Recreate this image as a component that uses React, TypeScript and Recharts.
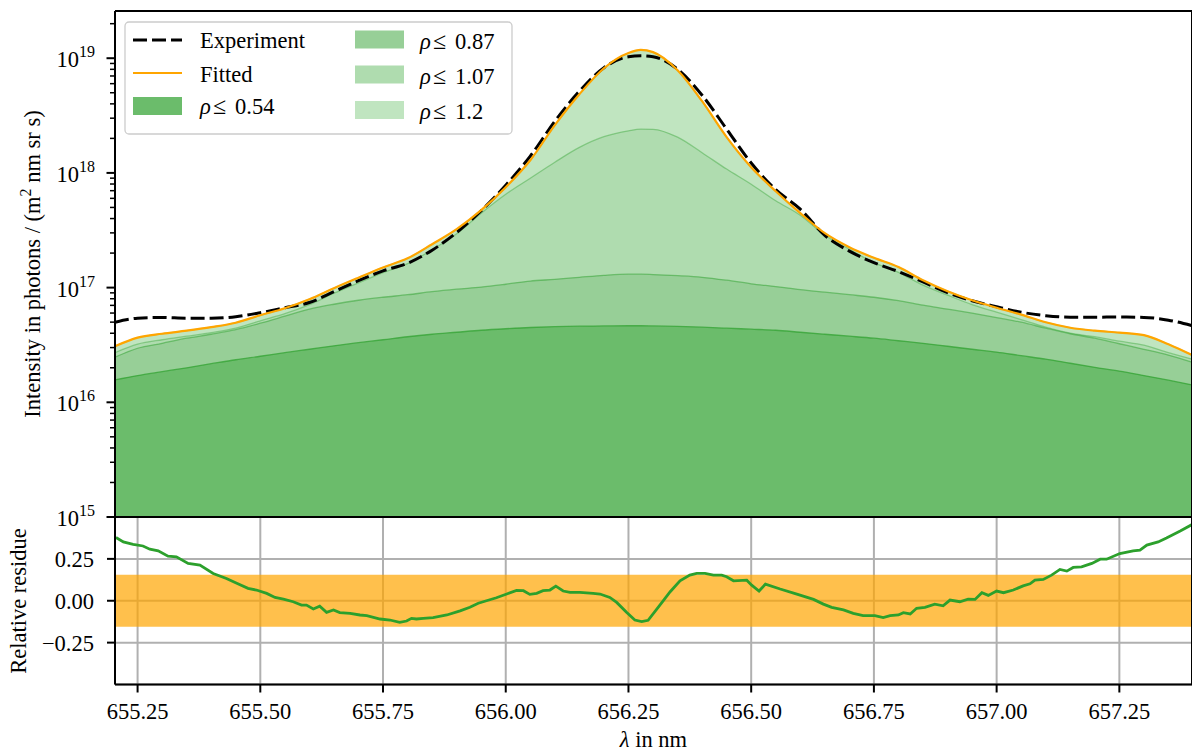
import {
  ComposedChart,
  Area,
  Line,
  XAxis,
  YAxis,
  CartesianGrid,
  ReferenceArea,
  ReferenceLine,
  Legend,
} from "recharts";

const FONT = '"Liberation Serif", "Times New Roman", serif';

// wavelength grid (nm) for the spectrum panel
const WAVELENGTH = [
  655.204, 655.25, 655.3, 655.35, 655.4, 655.45, 655.5, 655.55, 655.6, 655.65, 655.7, 655.75,
  655.8, 655.85, 655.9, 655.95, 656.0, 656.05, 656.1, 656.15, 656.2, 656.25, 656.275, 656.3,
  656.35, 656.4, 656.45, 656.5, 656.55, 656.6, 656.65, 656.7, 656.75, 656.8, 656.85, 656.9,
  656.95, 657.0, 657.05, 657.1, 657.15, 657.2, 657.25, 657.3, 657.35, 657.398,
];

// measured spectrum (dashed black)
const EXPERIMENT = [
  4.99e16, 5.41e16, 5.49e16, 5.41e16, 5.41e16, 5.58e16, 6.04e16, 6.68e16, 7.41e16, 9.21e16,
  1.15e17, 1.4e17, 1.63e17, 2.12e17, 3.02e17, 4.68e17, 7.81e17, 1.4e18, 2.82e18, 5.15e18,
  8.26e18, 1.03e19, 1.05e19, 1.03e19, 8.02e18, 4.76e18, 2.41e18, 1.22e18, 7.14e17, 4.83e17,
  2.86e17, 2.08e17, 1.65e17, 1.38e17, 1.12e17, 9.03e16, 7.69e16, 6.81e16, 6.1e16, 5.69e16,
  5.52e16, 5.52e16, 5.54e16, 5.5e16, 5.2e16, 4.66e16,
];

// fitted total (orange), also the top of the rho <= 1.2 band
const FITTED = [
  3.08e16, 3.66e16, 3.96e16, 4.21e16, 4.52e16, 4.94e16, 5.74e16, 6.61e16, 7.92e16, 9.88e16,
  1.22e17, 1.5e17, 1.8e17, 2.39e17, 3.23e17, 4.73e17, 7.5e17, 1.29e18, 2.61e18, 4.85e18,
  8.18e18, 1.11e19, 1.18e19, 1.13e19, 7.86e18, 4.22e18, 2.05e18, 1.12e18, 6.92e17, 4.46e17,
  2.98e17, 2.25e17, 1.82e17, 1.51e17, 1.16e17, 9.31e16, 7.76e16, 6.68e16, 5.81e16, 4.99e16,
  4.47e16, 4.21e16, 4.05e16, 3.85e16, 3.21e16, 2.58e16,
];

const RHO_107 = [
  2.71e16, 3.21e16, 3.51e16, 3.77e16, 4.05e16, 4.43e16, 5.14e16, 5.92e16, 7.1e16, 8.94e16,
  1.1e17, 1.35e17, 1.62e17, 2.14e17, 2.95e17, 4.46e17, 6.52e17, 8.99e17, 1.24e18, 1.67e18,
  2.07e18, 2.33e18, 2.41e18, 2.4e18, 2.05e18, 1.5e18, 1.08e18, 7.97e17, 5.72e17, 4.28e17,
  2.86e17, 2.16e17, 1.65e17, 1.36e17, 1.05e17, 8.59e16, 7.1e16, 6.1e16, 5.25e16, 4.52e16,
  4.0e16, 3.73e16, 3.41e16, 3.15e16, 2.71e16, 2.38e16,
];

const RHO_087 = [
  2.47e16, 2.96e16, 3.27e16, 3.62e16, 3.92e16, 4.3e16, 4.89e16, 5.63e16, 6.49e16, 7.16e16,
  7.76e16, 8.24e16, 8.67e16, 9.21e16, 9.68e16, 1.01e17, 1.07e17, 1.14e17, 1.18e17, 1.23e17,
  1.28e17, 1.31e17, 1.31e17, 1.3e17, 1.27e17, 1.23e17, 1.16e17, 1.08e17, 1.02e17, 9.59e16,
  9.12e16, 8.67e16, 8.24e16, 7.69e16, 7.03e16, 6.49e16, 5.98e16, 5.47e16, 4.99e16, 4.43e16,
  3.96e16, 3.62e16, 3.24e16, 2.9e16, 2.58e16, 2.24e16,
];

const RHO_054 = [
  1.57e16, 1.71e16, 1.85e16, 2.0e16, 2.17e16, 2.35e16, 2.52e16, 2.71e16, 2.9e16, 3.11e16,
  3.31e16, 3.51e16, 3.73e16, 3.92e16, 4.08e16, 4.25e16, 4.38e16, 4.49e16, 4.56e16, 4.61e16,
  4.63e16, 4.65e16, 4.65e16, 4.63e16, 4.59e16, 4.52e16, 4.43e16, 4.34e16, 4.25e16, 4.08e16,
  3.92e16, 3.77e16, 3.62e16, 3.44e16, 3.27e16, 3.08e16, 2.9e16, 2.74e16, 2.55e16, 2.38e16,
  2.19e16, 2.02e16, 1.87e16, 1.71e16, 1.56e16, 1.42e16,
];

// relative residue panel
const RES_WL = [
  655.206, 655.221, 655.241, 655.261, 655.275, 655.292, 655.312, 655.329, 655.353, 655.377,
  655.404, 655.431, 655.452, 655.475, 655.492, 655.513, 655.53, 655.547, 655.567, 655.584,
  655.594, 655.608, 655.621, 655.635, 655.649, 655.662, 655.683, 655.703, 655.717, 655.744,
  655.764, 655.784, 655.798, 655.808, 655.818, 655.832, 655.852, 655.88, 655.907, 655.927,
  655.944, 655.981, 656.002, 656.022, 656.036, 656.049, 656.063, 656.076, 656.09, 656.102,
  656.117, 656.131, 656.151, 656.178, 656.192, 656.212, 656.226, 656.246, 656.263, 656.277,
  656.29, 656.314, 656.335, 656.355, 656.375, 656.389, 656.406, 656.423, 656.44, 656.45,
  656.464, 656.491, 656.501, 656.516, 656.529, 656.559, 656.593, 656.627, 656.647, 656.664,
  656.688, 656.708, 656.728, 656.752, 656.769, 656.783, 656.8, 656.81, 656.824, 656.837,
  656.854, 656.874, 656.891, 656.905, 656.925, 656.942, 656.956, 656.97, 656.983, 657.0,
  657.014, 657.034, 657.054, 657.068, 657.078, 657.095, 657.112, 657.129, 657.143, 657.156,
  657.173, 657.194, 657.211, 657.224, 657.251, 657.278, 657.292, 657.306, 657.329, 657.346,
  657.374, 657.398,
];
const RES_VAL = [
  0.378, 0.351, 0.337, 0.327, 0.308, 0.298, 0.266, 0.262, 0.223, 0.213,
  0.163, 0.133, 0.104, 0.074, 0.064, 0.044, 0.02, 0.01, -0.006, -0.026,
  -0.026, -0.049, -0.032, -0.069, -0.055, -0.071, -0.075, -0.085, -0.089, -0.109,
  -0.115, -0.129, -0.121, -0.105, -0.109, -0.105, -0.101, -0.085, -0.06, -0.039,
  -0.015, 0.018, 0.04, 0.062, 0.06, 0.038, 0.044, 0.06, 0.064, 0.087,
  0.058, 0.05, 0.05, 0.044, 0.04, 0.02, -0.01, -0.069, -0.115, -0.125,
  -0.117, -0.026, 0.054, 0.119, 0.153, 0.163, 0.163, 0.153, 0.153, 0.143,
  0.119, 0.123, 0.093, 0.058, 0.099, 0.07, 0.04, 0.008, -0.02, -0.039,
  -0.055, -0.075, -0.089, -0.089, -0.101, -0.089, -0.085, -0.071, -0.079, -0.045,
  -0.039, -0.02, -0.03, 0.004, -0.006, 0.01, 0.008, 0.048, 0.032, 0.058,
  0.048, 0.064, 0.089, 0.101, 0.123, 0.127, 0.153, 0.187, 0.177, 0.199,
  0.202, 0.223, 0.248, 0.248, 0.282, 0.298, 0.302, 0.332, 0.351, 0.375,
  0.417, 0.455,
];

const BAND = 0.155; // tolerance band of the residue
const X_TICKS = [655.25, 655.5, 655.75, 656.0, 656.25, 656.5, 656.75, 657.0, 657.25];
const RES_TICKS = [-0.25, 0, 0.25];

const XMIN = 655.204;
const XMAX = 657.398;
const YMIN = 1e15;
const YMAX = 2.58e19;

const LOG_TICKS: number[] = [];
for (let e = 15; e <= 19; e++) {
  for (let m = 1; m <= 9; m++) {
    const v = m * Math.pow(10, e);
    if (v <= YMAX) LOG_TICKS.push(v);
  }
}

const topData = WAVELENGTH.map((wl, i) => ({
  wl,
  experiment: EXPERIMENT[i],
  fitted: FITTED[i],
  rho107: RHO_107[i],
  rho087: RHO_087[i],
  rho054: RHO_054[i],
}));

const resData = RES_WL.map((wl, i) => ({ wl, res: RES_VAL[i] }));

const AXIS_X = 115;

function renderLogTick(props: any) {
  const { y, payload } = props;
  const v = payload.value as number;
  const exp = Math.round(Math.log10(v));
  const major = Math.abs(v / Math.pow(10, exp) - 1) < 1e-6;
  return (
    <g>
      <line
        x1={AXIS_X - (major ? 8.5 : 5)}
        x2={AXIS_X}
        y1={y}
        y2={y}
        stroke="#000"
        strokeWidth={major ? 2 : 1.5}
      />
      {major && (
        <text x={AXIS_X - 20} y={y + 9} textAnchor="end" fontSize={22.5} fontFamily={FONT} fill="#000">
          10
          <tspan dy={-10} fontSize={16}>
            {exp}
          </tspan>
        </text>
      )}
    </g>
  );
}

const fmtRes = (v: number) => (v < 0 ? "\u2212" + Math.abs(v).toFixed(2) : v.toFixed(2));

function LegendBox() {
  const txt = { fontSize: 22.5, fontFamily: FONT, fill: "#000" } as const;
  const rho = (x: number, y: number, num: string) => (
    <text x={x} y={y} {...txt}>
      <tspan fontStyle="italic">ρ</tspan>
      <tspan x={x + 13} fontSize={24}>≤</tspan>
      <tspan x={x + 35}>{num}</tspan>
    </text>
  );
  return (
    <svg width={520} height={140} style={{ display: "block" }}>
      <rect x={125} y={22} width={387} height={112} rx={4} fill="#fff" fillOpacity={0.8} stroke="#cccccc" strokeWidth={1.3} />
      <line x1={133} x2={182} y1={40} y2={40} stroke="#000" strokeWidth={3} strokeDasharray="14 5" />
      <text x={200} y={48} {...txt}>Experiment</text>
      <line x1={133} x2={182} y1={73} y2={73} stroke="#ffa500" strokeWidth={2.2} />
      <text x={200} y={82} {...txt}>Fitted</text>
      <rect x={133} y={97} width={49} height={18} fill="#6bbc6b" />
      {rho(200, 114, "0.54")}
      <rect x={355} y={30.5} width={49} height={18} fill="#97cf97" />
      {rho(420, 48.5, "0.87")}
      <rect x={355} y={65.5} width={49} height={18} fill="#afdcaf" />
      {rho(420, 84, "1.07")}
      <rect x={355} y={101} width={49} height={18} fill="#c0e5c0" />
      {rho(420, 119, "1.2")}
    </svg>
  );
}

export default function App() {
  return (
    <div style={{ position: "absolute", left: 0, top: 0, width: 1192, height: 753, background: "#fff", fontFamily: FONT }}>
      <div style={{ position: "absolute", left: 0, top: 0 }}>
        <ComposedChart width={1192} height={530} data={topData} margin={{ top: 11, right: 0, bottom: 13, left: 0 }}>
          <XAxis dataKey="wl" type="number" domain={[XMIN, XMAX]} allowDataOverflow hide />
          <YAxis
            type="number"
            scale="log"
            domain={[YMIN, YMAX]}
            allowDataOverflow
            ticks={LOG_TICKS}
            interval={0}
            width={115}
            tickLine={false}
            tickSize={0}
            tickMargin={0}
            axisLine={{ stroke: "#000", strokeWidth: 2 }}
            tick={renderLogTick}
            label={() => (
              <text
                x={39.5}
                y={264}
                transform="rotate(-90 39.5 264)"
                textAnchor="middle"
                fontSize={22.5}
                fontFamily={FONT}
                fill="#000"
              >
                Intensity in photons / (m
                <tspan dy={-9} fontSize={16}>2</tspan>
                <tspan dy={9}>{" nm sr s)"}</tspan>
              </text>
            )}
          />
          {/* bands drawn from the widest to the narrowest */}
          <Area type="monotone" dataKey="fitted" baseValue={YMIN} fill="#c0e5c0" fillOpacity={1} stroke="#2ca02c" strokeOpacity={0.3} strokeWidth={1.3} isAnimationActive={false} />
          <Area type="monotone" dataKey="rho107" baseValue={YMIN} fill="#afdcaf" fillOpacity={1} stroke="#2ca02c" strokeOpacity={0.4} strokeWidth={1.3} isAnimationActive={false} />
          <Area type="monotone" dataKey="rho087" baseValue={YMIN} fill="#97cf97" fillOpacity={1} stroke="#2ca02c" strokeOpacity={0.5} strokeWidth={1.3} isAnimationActive={false} />
          <Area type="monotone" dataKey="rho054" baseValue={YMIN} fill="#6bbc6b" fillOpacity={1} stroke="#2ca02c" strokeOpacity={0.7} strokeWidth={1.3} isAnimationActive={false} />
          <Line type="monotone" dataKey="experiment" stroke="#000" strokeWidth={3} strokeDasharray="14 5" dot={false} activeDot={false} isAnimationActive={false} />
          <Line type="monotone" dataKey="fitted" stroke="#ffa500" strokeWidth={2.2} dot={false} activeDot={false} isAnimationActive={false} />
          <ReferenceLine y={YMAX} stroke="#000" strokeWidth={2} />
          <ReferenceLine x={XMAX} stroke="#000" strokeWidth={2} />
          <Legend
            layout="vertical"
            align="center"
            verticalAlign="middle"
            content={() => <LegendBox />}
            wrapperStyle={{ left: 0, top: 0, width: 520, height: 140 }}
          />
        </ComposedChart>
      </div>
      <div style={{ position: "absolute", left: 0, top: 500 }}>
        <ComposedChart width={1192} height={253} data={resData} margin={{ top: 17, right: 0, bottom: 0, left: 0 }}>
          <CartesianGrid stroke="#b0b0b0" strokeWidth={2} />
          <XAxis
            dataKey="wl"
            type="number"
            domain={[XMIN, XMAX]}
            allowDataOverflow
            ticks={X_TICKS}
            interval={0}
            height={68.5}
            tickSize={8}
            tickMargin={11}
            tickFormatter={(v: number) => v.toFixed(2)}
            stroke="#000"
            tickLine={{ stroke: "#000", strokeWidth: 2 }}
            axisLine={{ stroke: "#000", strokeWidth: 2 }}
            tick={{ fill: "#000", fontSize: 22.5, fontFamily: FONT }}
            label={() => (
              <text x={653.5} y={247} textAnchor="middle" fontSize={22.5} fontFamily={FONT} fill="#000">
                <tspan fontStyle="italic">λ</tspan>
                {" in nm"}
              </text>
            )}
          />
          <YAxis
            type="number"
            domain={[-0.5, 0.5]}
            allowDataOverflow
            ticks={RES_TICKS}
            interval={0}
            width={115}
            tickSize={8}
            tickMargin={13}
            tickFormatter={fmtRes}
            stroke="#000"
            tickLine={{ stroke: "#000", strokeWidth: 2 }}
            axisLine={{ stroke: "#000", strokeWidth: 2 }}
            tick={{ fill: "#000", fontSize: 22.5, fontFamily: FONT }}
            label={() => (
              <text
                x={26}
                y={101}
                transform="rotate(-90 26 101)"
                textAnchor="middle"
                fontSize={22.5}
                fontFamily={FONT}
                fill="#000"
              >
                Relative residue
              </text>
            )}
          />
          <ReferenceArea y1={-BAND} y2={BAND} fill="#ffa500" fillOpacity={0.7} stroke="none" />
          <Line type="linear" dataKey="res" stroke="#2ca02c" strokeWidth={2.8} dot={false} activeDot={false} isAnimationActive={false} />
          <ReferenceLine y={0.5} stroke="#000" strokeWidth={2} />
          <ReferenceLine x={XMAX} stroke="#000" strokeWidth={2} />
        </ComposedChart>
      </div>
    </div>
  );
}
